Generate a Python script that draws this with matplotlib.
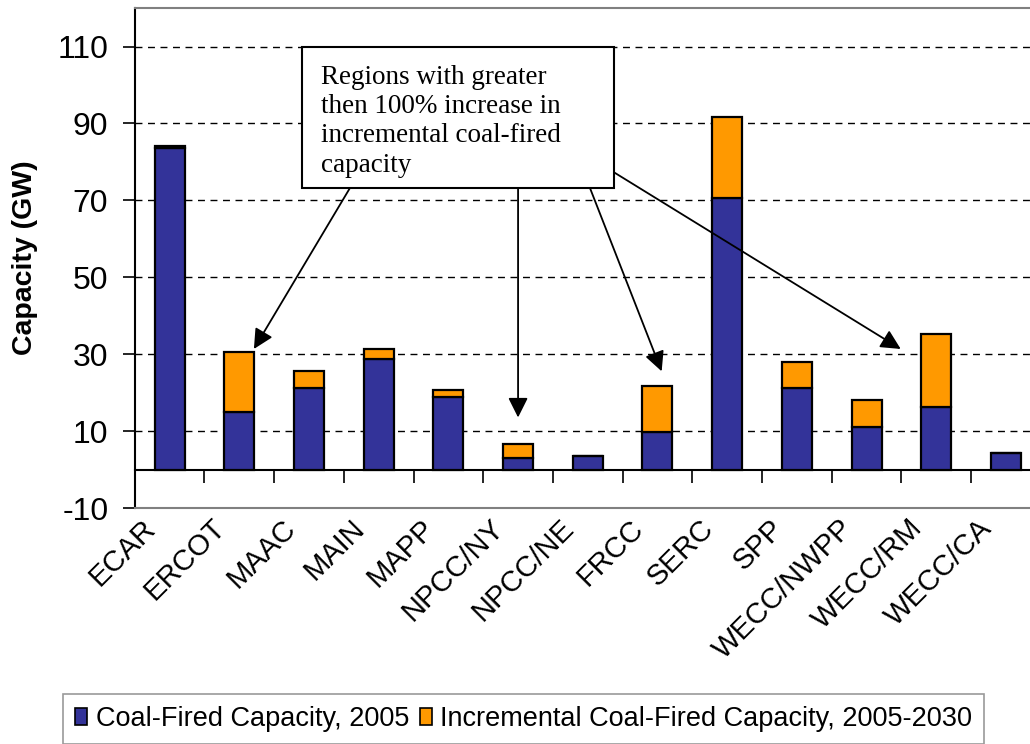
import matplotlib
matplotlib.use("Agg")
import matplotlib.pyplot as plt
import matplotlib.transforms as mtransforms
from matplotlib.patches import Patch

plt.rcParams['font.family'] = ['Liberation Sans', 'DejaVu Sans']
plt.rcParams['axes.unicode_minus'] = False

# data (GW)
regions = ["ECAR", "ERCOT", "MAAC", "MAIN", "MAPP", "NPCC/NY", "NPCC/NE",
           "FRCC", "SERC", "SPP", "WECC/NWPP", "WECC/RM", "WECC/CA"]
cap_2005 = [83.5, 14.9, 21.2, 28.7, 18.8, 3.0, 3.7, 9.9, 70.6, 21.2, 11.2, 16.2, 4.3]
incremental = [0.7, 15.7, 4.5, 2.6, 1.9, 3.7, 0.0, 11.9, 21.0, 6.8, 6.9, 19.2, 0.0]

blue = "#333399"
orange = "#FF9900"

fig = plt.figure(figsize=(10.30, 7.44), dpi=100)
ax = fig.add_axes([0.1308, 0.3168, 0.8797, 0.6724])

x = list(range(len(regions)))
ax.bar(x, cap_2005, width=0.43, color=blue, edgecolor="black", linewidth=1.6, zorder=3)
ax.bar(x, incremental, width=0.43, bottom=cap_2005, color=orange,
       edgecolor="black", linewidth=1.6, zorder=3)

ax.set_xlim(-0.5, len(regions) - 0.5)
ax.set_ylim(-10, 120)
ax.set_yticks(range(-10, 111, 20))
ax.yaxis.grid(True, linestyle=(0, (5, 4)), color="black", linewidth=1.0)
ax.set_axisbelow(True)
ax.tick_params(axis="y", labelsize=23, length=9, width=1.2, pad=10)

ax.set_xticks(x)
ax.set_xticklabels(regions, rotation=45, ha="right", va="top",
                   rotation_mode="anchor", fontsize=21)
ax.tick_params(axis="x", length=0, pad=4)
shift = mtransforms.ScaledTranslation(-28 / 100, 0, fig.dpi_scale_trans)
for lab in ax.get_xticklabels():
    lab.set_transform(lab.get_transform() + shift)

for s in ["top", "bottom", "right"]:
    ax.spines[s].set_color("#808080")
    ax.spines[s].set_linewidth(1.5)
ax.spines["left"].set_color("black")
ax.spines["left"].set_linewidth(1.5)

# category axis crossing at zero
sec = ax.secondary_xaxis(10 / 130)
sec.set_xticks([i + 0.5 for i in x[:-1]])
sec.set_xticklabels([])
sec.tick_params(length=9, width=1.2, direction="out")
sec.spines["bottom"].set_linewidth(1.5)

ax.set_ylabel("Capacity (GW)", fontsize=20.5, fontweight="bold", labelpad=14)

# callout box
ax.text(2.17, 105.2, "Regions with greater\nthen 100% increase in\nincremental coal-fired\ncapacity",
        family="Liberation Serif", fontsize=19.5, va="top", ha="left", linespacing=1.22,
        zorder=6)
box = plt.Rectangle((1.896, 73.3), 6.377 - 1.896, 109.8 - 73.3, facecolor="white",
                    edgecolor="black", linewidth=1.5, zorder=5)
ax.add_patch(box)

arrows = [((2.59, 73.3), (1.21, 31.4)),
          ((5.0, 73.3), (5.0, 13.6)),
          ((6.03, 73.3), (7.06, 25.6)),
          ((6.377, 77.3), (10.49, 31.4))]
for start, end in arrows:
    ax.annotate("", xy=end, xytext=start,
                arrowprops=dict(arrowstyle="-|>", color="black", lw=1.3,
                                mutation_scale=30, shrinkA=0, shrinkB=0),
                zorder=4)

handles = [Patch(facecolor=blue, edgecolor="black", linewidth=1.2),
           Patch(facecolor=orange, edgecolor="black", linewidth=1.2)]
leg = fig.legend(handles, ["Coal-Fired Capacity, 2005",
                           "Incremental Coal-Fired Capacity, 2005-2030"],
                 loc="upper left", bbox_to_anchor=(63 / 1030, 1 - 694 / 744),
                 ncol=2, fontsize=19.5, frameon=True, fancybox=False,
                 handlelength=0.45, handleheight=0.6, handletextpad=0.3,
                 columnspacing=0.4, borderpad=0.45, borderaxespad=0)
leg.get_frame().set_edgecolor("#808080")
leg.get_frame().set_linewidth(1.2)

fig.savefig("out.png", dpi=100)
